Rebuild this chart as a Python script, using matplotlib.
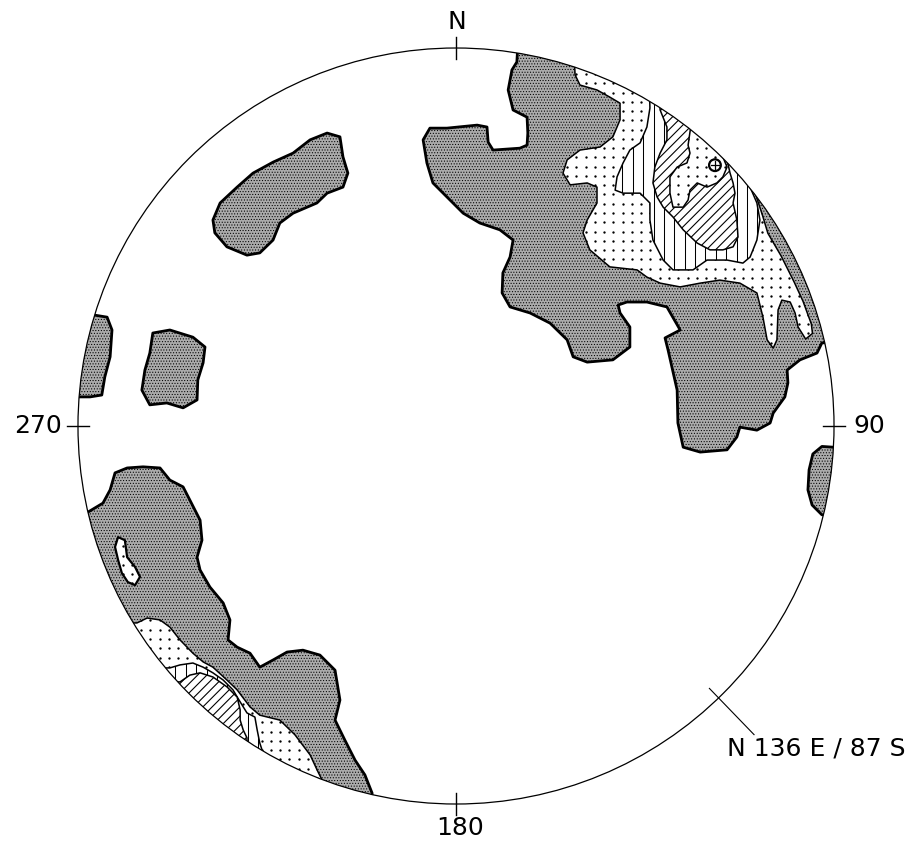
import numpy as np
import matplotlib
matplotlib.use("Agg")
import matplotlib.pyplot as plt
from matplotlib.patches import Polygon, Circle, PathPatch
from matplotlib.path import Path
from matplotlib.collections import LineCollection

plt.rcParams["hatch.linewidth"] = 0.45

# Lower-hemisphere net: primitive circle of radius 100, x = east, y = north
R = 100.0

# ---- contour level 1 (dense stipple) ----
ne_level1 = [(16.9, 110.0), (16.1, 96.3), (14.8, 94.2), (13.8, 88.9), (15.1, 83.6), (18.8, 81.7),
             (19.0, 77.5), (18.8, 74.3), (16.9, 73.5), (9.8, 73.0), (8.5, 75.1), (8.2, 79.1),
             (5.6, 79.6), (-2.4, 78.8), (-6.9, 78.8), (-8.7, 75.7), (-7.7, 69.6), (-6.1, 64.3),
             (-2.4, 60.6), (1.9, 56.3), (6.3, 53.7), (11.6, 51.9), (15.1, 49.2), (14.3, 44.7),
             (12.4, 40.5), (12.2, 35.2), (14.3, 31.5), (19.6, 29.9), (24.9, 27.2), (29.4, 22.8),
             (31.0, 18.3), (34.7, 16.9), (41.5, 17.5), (46.0, 20.9), (46.0, 26.2), (43.4, 29.9),
             (42.9, 32.0), (45.2, 32.8), (50.5, 32.8), (55.8, 31.5), (59.3, 25.4), (55.3, 23.3),
             (56.1, 20.1), (58.5, 9.5), (58.7, 0.8), (60.1, -5.6), (64.6, -6.9), (71.7, -6.3),
             (74.3, -2.9), (75.1, -0.3), (79.6, -1.1), (83.1, 0.8), (83.9, 3.4), (87.0, 7.7),
             (87.8, 11.4), (87.6, 14.8), (91.0, 17.5), (95.5, 19.3), (96.8, 22.0), (115.0, 22.0),
             (115.0, 110.0)]
nw_blob = [(-64.3, 54.5), (-62.4, 59.0), (-57.9, 63.2), (-53.7, 66.9), (-48.4, 69.8), (-43.1, 72.2),
           (-38.6, 75.7), (-34.1, 77.5), (-30.7, 76.5), (-29.9, 71.2), (-28.6, 66.9), (-29.9, 63.2),
           (-34.1, 61.6), (-36.8, 59.0), (-43.1, 56.3), (-46.6, 53.7), (-48.4, 49.2), (-51.9, 45.8),
           (-55.3, 45.2), (-60.6, 47.4), (-63.8, 51.1)]
w_square = [(-80.2, 24.6), (-75.7, 25.4), (-69.6, 23.5), (-66.4, 20.9), (-66.9, 16.7), (-68.3, 12.2),
            (-68.5, 6.9), (-72.2, 4.8), (-76.5, 6.1), (-81.0, 5.6), (-83.1, 9.5), (-82.3, 14.8),
            (-81.0, 19.3)]
w_edge = [(-96.0, 29.4), (-92.3, 28.8), (-91.0, 25.4), (-91.5, 18.3), (-92.9, 13.0), (-93.7, 8.2),
          (-96.8, 7.7), (-115.0, 7.7), (-115.0, 29.4)]
e_edge = [(99.7, -5.6), (96.8, -5.4), (94.4, -7.4), (93.4, -11.6), (93.1, -16.9), (94.2, -20.9),
          (96.8, -23.5), (115.0, -23.5), (115.0, -5.6)]
sw_level1 = [(-97.4, -22.8), (-93.4, -20.4), (-91.5, -16.9), (-90.2, -12.4), (-87.0, -11.1),
             (-82.8, -10.8), (-78.3, -11.1), (-75.7, -14.3), (-72.2, -16.1), (-70.4, -19.6),
             (-67.7, -24.9), (-67.2, -30.2), (-68.5, -34.7), (-67.7, -38.1), (-65.1, -42.6),
             (-61.6, -46.8), (-59.8, -51.3), (-60.3, -56.6), (-57.9, -58.5), (-54.5, -60.1),
             (-51.9, -63.8), (-48.4, -61.9), (-44.7, -59.8), (-40.5, -59.3), (-36.0, -60.6),
             (-32.0, -64.6), (-30.7, -72.5), (-32.0, -77.8), (-29.4, -83.1), (-26.7, -88.4),
             (-24.1, -92.3), (-22.2, -97.1), (-22.0, -115.0), (-115.0, -115.0), (-115.0, -22.8)]

# ---- contour level 2 (sparse dots) ----
ne_level2 = [(30.7, 110.0), (31.5, 92.9), (32.8, 90.2), (37.3, 88.9), (40.7, 87.0), (43.4, 85.4),
             (43.4, 81.0), (41.5, 76.5), (38.1, 73.8), (32.8, 73.0), (29.4, 70.4), (28.3, 66.9),
             (30.2, 63.8), (34.7, 64.3), (37.3, 63.2), (37.3, 59.0), (34.7, 54.5), (33.6, 51.1),
             (35.4, 46.6), (40.7, 42.1), (47.9, 41.3), (50.5, 39.4), (54.0, 37.8), (59.3, 36.8),
             (64.6, 37.8), (69.8, 38.6), (75.1, 37.8), (79.6, 35.2), (81.2, 28.8), (82.3, 22.8),
             (83.9, 20.6), (84.9, 22.8), (85.2, 30.7), (86.2, 33.3), (88.4, 32.8), (89.7, 29.9),
             (90.5, 26.2), (92.5, 23.0), (94.3, 24.5), (94.0, 27.0), (91.8, 33.0), (89.5, 38.0),
             (86.0, 45.0), (82.5, 51.0), (81.0, 56.0), (79.0, 62.0), (110.0, 80.0), (60.0, 115.0)]
sw_level2 = [(-115.0, -52.1), (-84.4, -52.1), (-81.7, -50.8), (-78.3, -51.3), (-75.7, -53.2),
             (-73.0, -56.6), (-69.6, -60.1), (-66.9, -62.4), (-64.3, -63.8), (-60.6, -67.2),
             (-57.9, -69.8), (-54.5, -74.3), (-51.9, -76.5), (-46.6, -77.8), (-42.6, -81.7),
             (-38.6, -87.0), (-36.5, -91.5), (-35.4, -93.7), (-35.0, -115.0), (-115.0, -115.0)]
sw_hole = [(-89.4, -29.4), (-87.6, -30.2), (-87.0, -34.7), (-84.9, -37.3), (-83.6, -39.9),
           (-84.9, -42.1), (-86.8, -41.3), (-88.4, -38.9), (-89.4, -35.4), (-90.2, -32.0)]

# ---- contour level 3 (vertical ruling) ----
ne_level3 = [(50.8, 105.0), (51.3, 84.1), (50.5, 79.1), (48.7, 74.9), (46.0, 73.0), (44.2, 69.6),
             (42.6, 65.9), (42.1, 62.4), (44.2, 61.6), (48.7, 61.6), (51.3, 59.0), (51.3, 54.5),
             (52.1, 49.2), (54.8, 43.9), (57.4, 41.3), (62.7, 41.3), (66.4, 43.9), (71.7, 43.9),
             (75.9, 43.1), (77.8, 44.7), (79.6, 49.2), (80.4, 54.5), (79.6, 59.0), (77.8, 63.2),
             (95.0, 70.0), (60.0, 105.0)]
sw_level3 = [(-115.0, -64.0), (-75.7, -64.0), (-73.0, -63.2), (-69.6, -62.7), (-66.9, -63.8),
             (-64.3, -65.3), (-61.6, -67.2), (-59.0, -69.8), (-57.7, -72.0), (-55.3, -75.9),
             (-53.2, -77.0), (-52.6, -80.4), (-51.9, -83.9), (-51.3, -85.7), (-51.0, -115.0),
             (-115.0, -115.0)]

# ---- contour level 4 (oblique ruling) ----
ne_level4 = [(52.6, 105.0), (54.0, 83.6), (55.8, 79.1), (55.8, 75.7), (54.0, 72.2), (52.6, 68.5),
             (52.1, 64.3), (53.2, 60.6), (54.8, 57.9), (57.4, 55.3), (60.1, 51.9), (63.8, 48.4),
             (67.2, 46.6), (70.6, 46.6), (73.3, 47.4), (74.6, 50.0), (74.3, 54.5), (73.3, 59.0),
             (73.8, 61.6), (73.3, 64.3), (72.5, 66.9), (71.7, 70.4), (90.0, 80.0), (65.0, 105.0)]
sw_level4 = [(-115.0, -67.7), (-73.0, -67.7), (-70.4, -65.9), (-67.7, -65.3), (-64.3, -66.4),
             (-60.6, -69.0), (-57.9, -71.7), (-57.1, -75.1), (-57.1, -77.8), (-56.3, -80.4),
             (-55.3, -82.5), (-55.0, -115.0), (-115.0, -115.0)]

# ---- contour level 5 (dots) and the maximum ----
ne_level5 = [(61.4, 74.3), (61.9, 72.2), (61.1, 69.6), (58.5, 68.5), (56.6, 65.9), (56.6, 61.6),
             (57.4, 57.9), (60.1, 57.9), (61.4, 59.8), (61.9, 62.4), (63.8, 64.3), (66.4, 63.2),
             (69.0, 64.3), (70.6, 65.9), (71.7, 68.5), (70.6, 71.2), (75.0, 80.0), (62.5, 82.0)]
maximum = (68.5, 69.0)

# ---- frame annotation ----
cardinal_azimuths = [0, 90, 180, 270]
cardinal_labels = ["N", "90", "180", "270"]
plane_azimuth = 136
plane_label = "N 136 E / 87 S"

STIPPLE_FACE = "#ababab"
DOT_STEP = 2.45
VERT_STEP = 2.75
OBL_STEP = 2.45
LABEL_FONT = dict(family=["DejaVu Sans"], fontsize=18, color="black", zorder=12)

fig = plt.figure(figsize=(9.23, 8.42), dpi=100)
ax = fig.add_axes([0, 0, 1, 1])
ax.set_xlim(-120.63, 123.54)
ax.set_ylim(-110.05, 112.70)
ax.axis("off")


def stipple(pts, z=2):
    ax.add_patch(Polygon(pts, closed=True, facecolor=STIPPLE_FACE, edgecolor="black",
                         lw=2.0, hatch="......", joinstyle="round", zorder=z))


def base(pts, z):
    p = Polygon(pts, closed=True, facecolor="white", edgecolor="none", zorder=z)
    ax.add_patch(p)
    return p


def outline(pts, z, lw=1.1):
    ax.add_patch(Polygon(pts, closed=True, facecolor="none", edgecolor="black",
                         lw=lw, joinstyle="round", zorder=z + 0.2))


def dotted(pts, z, lw=1.1):
    p = base(pts, z)
    xs, ys = np.asarray(pts).T
    gx = np.arange(np.floor(xs.min() / DOT_STEP) * DOT_STEP, xs.max(), DOT_STEP)
    gy = np.arange(np.floor(ys.min() / DOT_STEP) * DOT_STEP, ys.max(), DOT_STEP)
    X, Y = np.meshgrid(gx, gy)
    d, = ax.plot(X.ravel(), Y.ravel(), ls="none", marker="o", ms=1.7, mfc="black",
                 mec="none", zorder=z + 0.1)
    d.set_clip_path(p)
    outline(pts, z, lw)


def vertical_rule(pts, z):
    p = base(pts, z)
    xs, ys = np.asarray(pts).T
    segs = [[(x, ys.min() - 1), (x, ys.max() + 1)]
            for x in np.arange(np.floor(xs.min() / VERT_STEP) * VERT_STEP, xs.max(), VERT_STEP)]
    lc = LineCollection(segs, colors="black", linewidths=0.75, zorder=z + 0.1)
    ax.add_collection(lc)
    lc.set_clip_path(p)
    outline(pts, z)


def oblique_rule(pts, z):
    p = base(pts, z)
    xs, ys = np.asarray(pts).T
    x0, x1 = xs.min() - 1, xs.max() + 1
    cs = np.arange(np.floor((ys.min() - x1) / OBL_STEP) * OBL_STEP, ys.max() - x0, OBL_STEP)
    segs = [[(x0, x0 + c), (x1, x1 + c)] for c in cs]
    lc = LineCollection(segs, colors="black", linewidths=0.8, zorder=z + 0.1)
    ax.add_collection(lc)
    lc.set_clip_path(p)
    outline(pts, z)


# level 1
for reg in (ne_level1, nw_blob, w_square, w_edge, e_edge, sw_level1):
    stipple(reg)
# level 2
dotted(ne_level2, 3)
dotted(sw_level2, 3)
dotted(sw_hole, 3, lw=1.6)
# level 3
vertical_rule(ne_level3, 4)
vertical_rule(sw_level3, 4)
# level 4
oblique_rule(ne_level4, 5)
oblique_rule(sw_level4, 5)
# level 5
dotted(ne_level5, 6)

# maximum density symbol
mx, my = maximum
ax.add_patch(Circle((mx, my), 1.55, facecolor="white", edgecolor="black", lw=1.6, zorder=7))
ax.plot([mx - 1.1, mx + 1.1], [my, my], color="black", lw=0.9, zorder=7.1)
ax.plot([mx, mx], [my - 1.1, my + 1.1], color="black", lw=0.9, zorder=7.1)

# white mask outside the primitive circle
th = np.linspace(0, 2 * np.pi, 721)[::-1]
ring = np.column_stack([R * np.cos(th), R * np.sin(th)])
box = np.array([[-300, -300], [300, -300], [300, 300], [-300, 300], [-300, -300]])
verts = np.vstack([box, ring])
codes = ([Path.MOVETO] + [Path.LINETO] * 3 + [Path.CLOSEPOLY]
         + [Path.MOVETO] + [Path.LINETO] * (len(ring) - 2) + [Path.CLOSEPOLY])
ax.add_patch(PathPatch(Path(verts, codes), facecolor="white", edgecolor="none", zorder=10))

# primitive circle, cardinal ticks and labels
ax.add_patch(Circle((0, 0), R, fill=False, edgecolor="black", lw=0.9, zorder=11))
for az in cardinal_azimuths:
    a = np.radians(az)
    ax.plot([97.2 * np.sin(a), 103.0 * np.sin(a)], [97.2 * np.cos(a), 103.0 * np.cos(a)],
            color="black", lw=1.0, zorder=11)

ax.text(0.3, 107.0, cardinal_labels[0], ha="center", va="center", **LABEL_FONT)
ax.text(105.0, 0.0, cardinal_labels[1], ha="left", va="center", **LABEL_FONT)
ax.text(1.1, -106.3, cardinal_labels[2], ha="center", va="center", **LABEL_FONT)
ax.text(-104.2, 0.0, cardinal_labels[3], ha="right", va="center", **LABEL_FONT)

# trace of the reference plane
pa = np.radians(plane_azimuth)
ax.plot([96.5 * np.sin(pa), 113.5 * np.sin(pa)], [96.5 * np.cos(pa), 113.5 * np.cos(pa)],
        color="black", lw=0.8, zorder=11)
ax.text(71.7, -85.4, plane_label, ha="left", va="center", **LABEL_FONT)

fig.savefig("out.png", dpi=100, facecolor="white")
